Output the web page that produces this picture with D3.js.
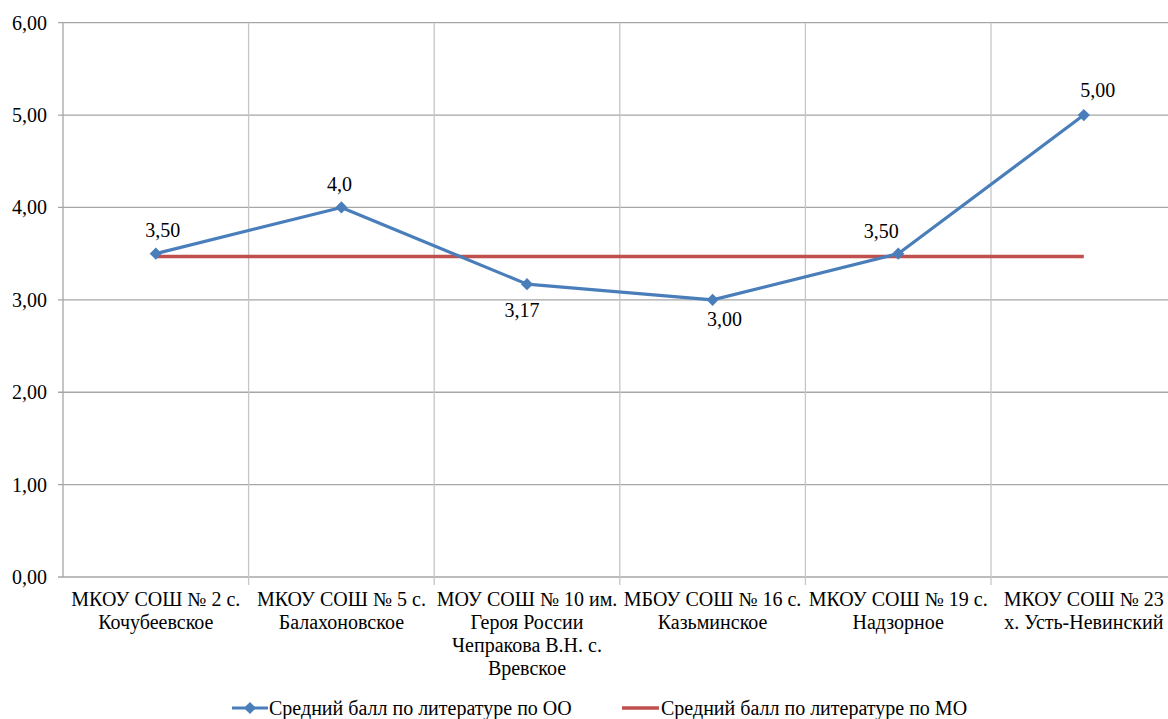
<!DOCTYPE html>
<html>
<head>
<meta charset="utf-8">
<script src="https://cdn.jsdelivr.net/npm/d3@7"></script>
</head>
<body style="margin:0">
<script>
// categories (each label split into lines)
var schools = [
    ["МКОУ СОШ № 2 с.", "Кочубеевское"],
    ["МКОУ СОШ № 5 с.", "Балахоновское"],
    ["МОУ СОШ № 10 им.", "Героя России", "Чепракова В.Н. с.", "Вревское"],
    ["МБОУ СОШ № 16 с.", "Казьминское"],
    ["МКОУ СОШ № 19 с.", "Надзорное"],
    ["МКОУ СОШ № 23", "х. Усть-Невинский"]
];
var scoreOO = [3.50, 4.00, 3.17, 3.00, 3.50, 5.00];
var scoreLabels = ["3,50", "4,0", "3,17", "3,00", "3,50", "5,00"];
var scoreMO = [3.47, 3.47, 3.47, 3.47, 3.47, 3.47];
var yTicks = [0, 1, 2, 3, 4, 5, 6];
var seriesNames = ["Средний балл по литературе по ОО", "Средний балл по литературе по МО"];

var width = 1168, height = 719;
var blue = "#4a7ebb", red = "#c0504d";
var fontSize = 20;

// hand-placed data label offsets (like the original Excel chart)
var labelOffsets = [[7, -17], [-2, -16], [-5, 33], [12, 26], [-17, -16], [14, -18]];

function styleText(sel) {
    sel.style("font-family", "'Liberation Serif'")
        .style("font-size", fontSize + "px")
        .style("fill", "#000");
}

var svg = d3.select("body").append("svg")
    .attr("width", width)
    .attr("height", height)
    .style("font-family", "'Liberation Serif'");

var x = d3.scaleBand()
    .domain(d3.range(schools.length))
    .range([63, 63 + 6 * 185.6]);

var y = d3.scaleLinear()
    .domain([0, 6])
    .range([577, 22.7]);

// horizontal grid lines
svg.append("g").selectAll("line").data(yTicks)
    .enter().append("line")
    .attr("x1", 58).attr("x2", x.range()[1])
    .attr("y1", function (d) { return y(d); })
    .attr("y2", function (d) { return y(d); })
    .attr("stroke", "#a6a6a6")
    .attr("stroke-width", 1.3);

// vertical grid lines at category boundaries
svg.append("g").selectAll("line").data(d3.range(1, schools.length + 1))
    .enter().append("line")
    .attr("x1", function (d) { return x.range()[0] + d * x.bandwidth(); })
    .attr("x2", function (d) { return x.range()[0] + d * x.bandwidth(); })
    .attr("y1", y(6))
    .attr("y2", y(0) + 8)
    .attr("stroke", "#c6c6c6")
    .attr("stroke-width", 1.3);

// left axis
svg.append("line")
    .attr("x1", x.range()[0]).attr("x2", x.range()[0])
    .attr("y1", y(6)).attr("y2", y(0))
    .attr("stroke", "#a6a6a6")
    .attr("stroke-width", 1.3);

// y tick labels
svg.append("g").selectAll("text").data(yTicks)
    .enter().append("text")
    .call(styleText)
    .attr("x", 47)
    .attr("y", function (d) { return y(d) + 7; })
    .attr("text-anchor", "end")
    .text(function (d) { return d3.format(".2f")(d).replace(".", ","); });

// category labels
var cat = svg.append("g").selectAll("text").data(schools)
    .enter().append("text")
    .call(styleText)
    .attr("text-anchor", "middle");

cat.selectAll("tspan").data(function (d, i) { return d.map(function (s) { return {s: s, i: i}; }); })
    .enter().append("tspan")
    .attr("x", function (d) { return x(d.i) + x.bandwidth() / 2; })
    .attr("y", function (d, j) { return 606 + j * 23; })
    .text(function (d) { return d.s; });

// MO line
var line = d3.line()
    .x(function (d, i) { return x(i) + x.bandwidth() / 2; })
    .y(function (d) { return y(d); });

svg.append("path")
    .datum(scoreMO)
    .attr("d", line)
    .attr("fill", "none")
    .attr("stroke", red)
    .attr("stroke-width", 3.5);

// OO line
svg.append("path")
    .datum(scoreOO)
    .attr("d", line)
    .attr("fill", "none")
    .attr("stroke", blue)
    .attr("stroke-width", 3.2)
    .attr("stroke-linejoin", "round");

var diamond = d3.symbol().type(d3.symbolDiamond2).size(95);

svg.append("g").selectAll("path").data(scoreOO)
    .enter().append("path")
    .attr("d", diamond)
    .attr("transform", function (d, i) { return "translate(" + (x(i) + x.bandwidth() / 2) + "," + y(d) + ")"; })
    .attr("fill", blue);

// data labels
svg.append("g").selectAll("text").data(scoreOO)
    .enter().append("text")
    .call(styleText)
    .attr("x", function (d, i) { return x(i) + x.bandwidth() / 2 + labelOffsets[i][0]; })
    .attr("y", function (d, i) { return y(d) + labelOffsets[i][1]; })
    .attr("text-anchor", "middle")
    .text(function (d, i) { return scoreLabels[i]; });

// legend
var legend = svg.append("g");
var legendX = [232, 622];
var legendY = 708;

legend.append("line")
    .attr("x1", legendX[0]).attr("x2", legendX[0] + 36)
    .attr("y1", legendY).attr("y2", legendY)
    .attr("stroke", blue).attr("stroke-width", 3.2);
legend.append("path")
    .attr("d", diamond)
    .attr("transform", "translate(" + (legendX[0] + 18) + "," + legendY + ")")
    .attr("fill", blue);
legend.append("line")
    .attr("x1", legendX[1]).attr("x2", legendX[1] + 37)
    .attr("y1", legendY).attr("y2", legendY)
    .attr("stroke", red).attr("stroke-width", 3.5);

legend.selectAll("text").data(seriesNames)
    .enter().append("text")
    .call(styleText)
    .attr("x", function (d, i) { return legendX[i] + (i == 0 ? 37 : 39); })
    .attr("y", legendY + 7)
    .text(function (d) { return d; });
</script>
</body>
</html>
